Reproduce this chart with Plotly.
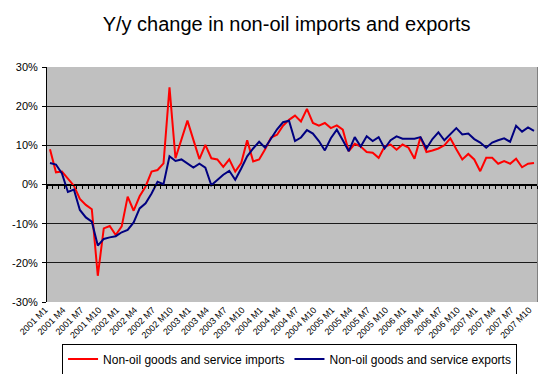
import plotly.graph_objects as go

years = list(range(2001, 2008))
months = [f"{y} M{m}" for y in years for m in range(1, 13)][:82]
tick_labels = months[::3]

imports_yoy = [
    9.0, 3.1, 3.3, 1.6, -0.3, -3.7, -5.2, -6.3, -23.3, -11.2, -10.6, -12.9,
    -10.7, -3.1, -6.7, -3.0, -0.5, 3.3, 3.7, 5.4, 24.8, 6.7, 11.8, 16.3,
    11.4, 6.5, 10.1, 6.7, 6.4, 4.5, 6.4, 3.3, 5.5, 11.3, 5.9, 6.4,
    9.0, 12.0, 12.7, 15.0, 16.5, 17.6, 16.1, 19.3, 15.7, 15.0, 15.7, 14.4,
    15.1, 14.0, 8.5, 10.4, 9.7, 8.3, 8.1, 6.8, 9.7, 10.2, 8.9, 10.2,
    9.4, 6.6, 12.1, 8.3, 8.7, 9.2, 10.0, 11.8, 9.0, 6.4, 7.8, 6.4,
    3.4, 6.8, 6.8, 5.3, 6.0, 5.3, 6.6, 4.4, 5.3, 5.5,
]
exports_yoy = [
    5.5, 5.1, 2.8, -1.9, -1.3, -6.5, -8.4, -9.5, -15.6, -13.9, -13.5, -13.2,
    -12.2, -11.6, -9.7, -6.1, -4.8, -2.3, 0.7, 0.1, 7.2, 6.0, 6.4, 5.3,
    4.3, 5.3, 4.3, -0.2, 1.1, 2.5, 3.5, 1.2, 4.1, 7.2, 9.2, 10.9,
    9.4, 11.6, 14.1, 15.9, 16.3, 11.1, 12.0, 13.9, 13.0, 11.1, 8.7, 11.8,
    14.0, 11.3, 8.5, 12.1, 9.7, 12.3, 11.1, 12.1, 9.2, 11.3, 12.3, 11.7,
    11.7, 11.7, 12.1, 9.2, 11.6, 13.3, 11.3, 12.8, 14.4, 12.8, 13.0, 11.6,
    10.7, 9.4, 10.7, 11.3, 11.8, 10.9, 15.0, 13.5, 14.6, 13.7,
]
series_names = ["Non-oil goods and service imports", "Non-oil goods and service exports"]
y_ticks = [-30, -20, -10, 0, 10, 20, 30]
y_tick_text = [f"{v}%" for v in y_ticks]

FONT = "Liberation Sans, Arial, sans-serif"

fig = go.Figure()
fig.add_trace(go.Scatter(x=months, y=imports_yoy, mode="lines", name=series_names[0],
                         line=dict(color="#FF0000", width=2)))
fig.add_trace(go.Scatter(x=months, y=exports_yoy, mode="lines", name=series_names[1],
                         line=dict(color="#000080", width=2)))
# helper traces so the overlay axes get drawn
fig.add_trace(go.Scatter(x=[None], y=[None], xaxis="x2", yaxis="y", showlegend=False,
                         hoverinfo="skip", mode="lines"))
fig.add_trace(go.Scatter(x=[None], y=[None], xaxis="x", yaxis="y2", showlegend=False,
                         hoverinfo="skip", mode="lines"))

fig.update_layout(
    width=547, height=374,
    margin=dict(l=47, r=10, t=67, b=72, autoexpand=False),
    paper_bgcolor="white",
    plot_bgcolor="#C0C0C0",
    font=dict(family=FONT, color="black", size=12),
    title=dict(text="Y/y change in non-oil imports and exports",
               x=0.524, xanchor="center", xref="container",
               y=1 - 24 / 374, yanchor="middle", yref="container",
               font=dict(size=20, family=FONT, color="black")),
    xaxis=dict(type="category", range=[-0.5, 81.5], tickvals=tick_labels, ticktext=tick_labels,
               tickangle=-45, tickfont=dict(size=9, family=FONT), showgrid=False,
               showline=False, ticks="", zeroline=False, automargin=False,
               ticklabelshift=-5),
    xaxis2=dict(overlaying="x", anchor="free", position=0.5, type="linear",
                range=[-0.5, 81.5], tick0=-0.5, dtick=1, ticks="outside", ticklen=3,
                tickcolor="black", showticklabels=False, showline=True, linecolor="black",
                linewidth=1, showgrid=False, zeroline=False, automargin=False),
    yaxis=dict(range=[-30, 30], tickmode="array", tickvals=y_ticks, ticktext=y_tick_text,
               showgrid=True, gridcolor="#1a1a1a", gridwidth=1,
               zeroline=True, zerolinecolor="black", zerolinewidth=1,
               showline=True, linecolor="black", linewidth=1,
               ticks="outside", ticklen=4, tickcolor="black", ticklabelstandoff=2,
               tickfont=dict(size=11, family=FONT), automargin=False),
    yaxis2=dict(overlaying="y", side="right", range=[-30, 30], showline=True,
                linecolor="#808080", linewidth=1, showticklabels=False, ticks="",
                showgrid=False, zeroline=False, automargin=False),
    legend=dict(orientation="h", x=0.495, xanchor="center", xref="paper",
                y=1 - 359 / 374, yanchor="middle", yref="container",
                bordercolor="black", borderwidth=1, bgcolor="white",
                font=dict(size=12, family=FONT), itemwidth=30, tracegroupgap=0),
    showlegend=True,
)

fig.write_html("out.html", config={"displayModeBar": False},
               post_script="document.body.style.margin='0';")
